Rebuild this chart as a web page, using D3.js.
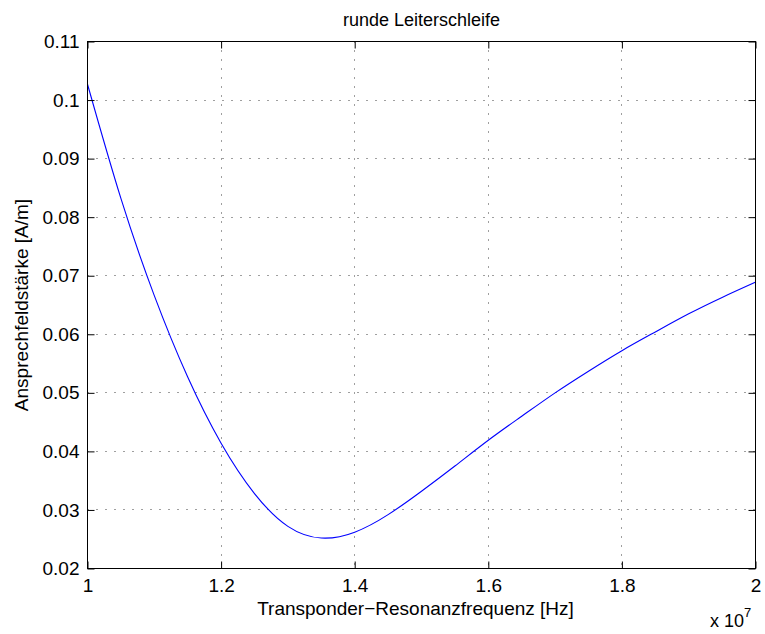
<!DOCTYPE html>
<html>
<head>
<meta charset="utf-8">
<script src="https://cdn.jsdelivr.net/npm/d3@7"></script>
<style>
  html, body { margin: 0; padding: 0; background: #fff; }
  svg { display: block; font-family: "Liberation Sans", Arial, Helvetica, sans-serif; }
</style>
</head>
<body>
<svg id="chart" width="765" height="634"></svg>
<script>
// Resonance frequency of the transponder (units of 1e7 Hz)
const freq = [1.00, 1.05, 1.10, 1.15, 1.20, 1.25, 1.30, 1.35, 1.40, 1.45, 1.50,
              1.55, 1.60, 1.65, 1.70, 1.75, 1.80, 1.85, 1.90, 1.95, 2.00];
// Required response field strength [A/m]
const field = [0.1027, 0.0832, 0.0666, 0.0527, 0.0414, 0.0328, 0.0272, 0.0252, 0.0262, 0.0292, 0.0332,
               0.0375, 0.0419, 0.0460, 0.0500, 0.0537, 0.0572, 0.0604, 0.0635, 0.0663, 0.0689];

const xTicks = [1, 1.2, 1.4, 1.6, 1.8, 2];
const yTicks = [0.02, 0.03, 0.04, 0.05, 0.06, 0.07, 0.08, 0.09, 0.10, 0.11];
const xTickLabels = ["1", "1.2", "1.4", "1.6", "1.8", "2"];
const yTickLabels = ["0.02", "0.03", "0.04", "0.05", "0.06", "0.07", "0.08", "0.09", "0.1", "0.11"];

const titleText = "runde Leiterschleife";
const xLabelText = "Transponder\u2212Resonanzfrequenz [Hz]";
const yLabelText = "Ansprechfeldst\u00e4rke [A/m]";

const margin = { left: 87.5, top: 41.5, right: 9.5, bottom: 65.5 };
const W = 765, H = 634;
const pw = W - margin.left - margin.right;
const ph = H - margin.top - margin.bottom;

const svg = d3.select("#chart");
const g = svg.append("g").attr("transform", `translate(${margin.left},${margin.top})`);

const x = d3.scaleLinear().domain([1, 2]).range([0, pw]);
const y = d3.scaleLinear().domain([0.02, 0.11]).range([ph, 0]);

// dotted grid
const grid = g.append("g").attr("stroke", "#000").attr("stroke-width", 1)
  .attr("stroke-dasharray", "1,8").attr("opacity", 0.75);
grid.selectAll("line.gx").data(xTicks.slice(1, -1)).join("line")
  .attr("x1", d => Math.round(x(d))).attr("x2", d => Math.round(x(d)))
  .attr("y1", 0).attr("y2", ph);
grid.selectAll("line.gy").data(yTicks.slice(1, -1)).join("line")
  .attr("y1", d => Math.round(y(d))).attr("y2", d => Math.round(y(d)))
  .attr("x1", 0).attr("x2", pw);

// data curve
const line = d3.line().x((d, i) => x(freq[i])).y(d => y(d)).curve(d3.curveNatural);
g.append("path").datum(field)
  .attr("fill", "none").attr("stroke", "#0000ff").attr("stroke-width", 1.1)
  .attr("d", line);

// axes with inward ticks on all four sides
const tl = 7;
g.append("g").attr("transform", `translate(0,${ph})`)
  .call(d3.axisBottom(x).tickValues(xTicks).tickSize(-tl).tickPadding(10.5)
        .tickFormat((d, i) => xTickLabels[i]));
g.append("g")
  .call(d3.axisTop(x).tickValues(xTicks).tickSize(-tl).tickFormat(""));
g.append("g")
  .call(d3.axisLeft(y).tickValues(yTicks).tickSize(-tl).tickPadding(8)
        .tickFormat((d, i) => yTickLabels[i]));
g.append("g").attr("transform", `translate(${pw},0)`)
  .call(d3.axisRight(y).tickValues(yTicks).tickSize(-tl).tickFormat(""));

g.selectAll(".domain").remove();
g.selectAll(".tick line").attr("stroke", "#000");
g.selectAll(".tick text").attr("fill", "#000").attr("font-size", 19)
  .attr("font-family", "Liberation Sans, Arial, sans-serif");

// frame
g.append("rect").attr("x", 0).attr("y", 0).attr("width", pw).attr("height", ph)
  .attr("fill", "none").attr("stroke", "#000").attr("stroke-width", 1);

// title and axis labels
svg.append("text").attr("x", margin.left + pw / 2).attr("y", 26)
  .attr("text-anchor", "middle").attr("font-size", 18).text(titleText);
svg.append("text").attr("x", margin.left + pw / 2 - 6).attr("y", 615)
  .attr("text-anchor", "middle").attr("font-size", 19).text(xLabelText);
svg.append("text").attr("transform", `translate(28,${margin.top + ph / 2}) rotate(-90)`)
  .attr("text-anchor", "middle").attr("font-size", 19).text(yLabelText);

// exponent label
const ex = svg.append("text").attr("x", 710).attr("y", 627).attr("font-size", 18);
ex.append("tspan").text("x 10");
ex.append("tspan").attr("dy", -10).attr("font-size", 13).text("7");
</script>
</body>
</html>
